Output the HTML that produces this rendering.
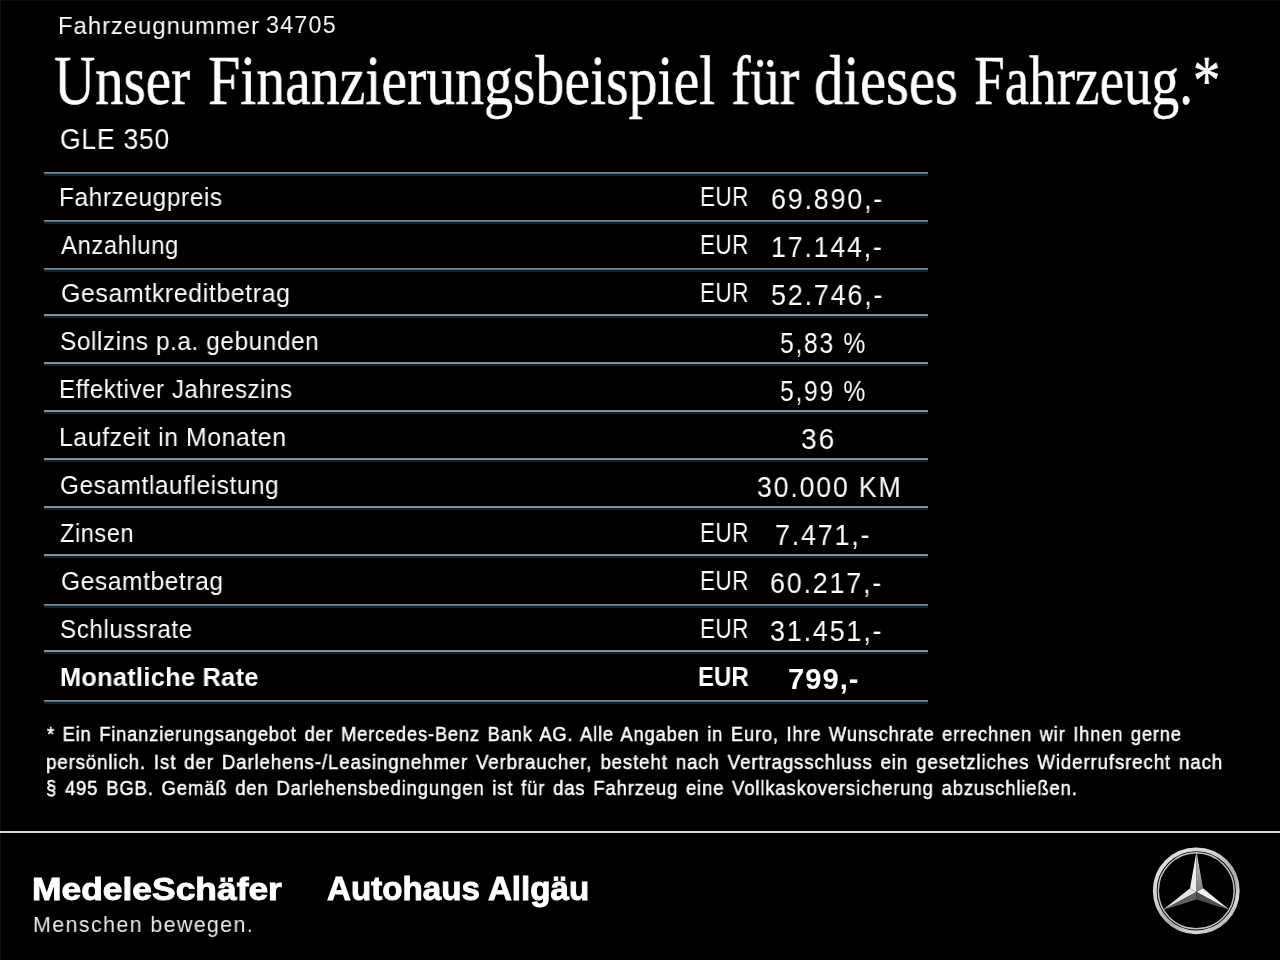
<!DOCTYPE html>
<html><head><meta charset="utf-8">
<style>
html,body{margin:0;padding:0;background:#000;font-family:"Liberation Sans",sans-serif;}
body{width:1280px;height:960px;position:relative;overflow:hidden;}
.t{position:absolute;white-space:nowrap;line-height:normal;transform-origin:0 0;color:#fff;will-change:transform;}
.rule{position:absolute;left:44px;width:884px;height:4px;}
.ra{background:linear-gradient(#7b8896 0,#7b8896 1px,#56687a 1px,#56687a 2px,#0c2238 2px,#0c2238 4px);}
.rb{background:linear-gradient(#8a8584 0,#8a8584 1px,#8d9096 1px,#8d9096 2px,#04203a 2px,#0a2644 4px);}
.bt{position:absolute;left:0;top:0;width:1280px;height:1px;background:#0c0c0c;}
.bl{position:absolute;left:0;top:0;width:1px;height:960px;background:#111;}
.fl{position:absolute;left:0;top:831px;width:1280px;height:2px;background:#d8d8d8;}
.star{position:absolute;}
</style></head><body>
<div class="bt"></div><div class="bl"></div>
<div class="rule ra" style="top:172px"></div>
<div class="rule ra" style="top:220px"></div>
<div class="rule ra" style="top:268px"></div>
<div class="rule rb" style="top:314px"></div>
<div class="rule rb" style="top:362px"></div>
<div class="rule rb" style="top:410px"></div>
<div class="rule rb" style="top:458px"></div>
<div class="rule rb" style="top:506px"></div>
<div class="rule rb" style="top:554px"></div>
<div class="rule ra" style="top:604px"></div>
<div class="rule rb" style="top:650px"></div>
<div class="rule ra" style="top:700px"></div>
<div class="fl"></div>
<svg class="star" width="100" height="100" viewBox="0 0 100 100" style="left:1146px;top:841px">
<defs>
<linearGradient id="rg" x1="0.1" y1="0" x2="0.9" y2="1">
<stop offset="0" stop-color="#e6e6e6"/><stop offset="0.35" stop-color="#cfcfcf"/><stop offset="0.6" stop-color="#a8a8a8"/><stop offset="0.8" stop-color="#dcdcdc"/><stop offset="1" stop-color="#9c9c9c"/>
</linearGradient>
<linearGradient id="tr" x1="0" y1="0" x2="0" y2="1"><stop offset="0" stop-color="#cfcfcf"/><stop offset="1" stop-color="#7d7d7d"/></linearGradient>
</defs>
<circle cx="50.25" cy="49.8" r="41.5" fill="none" stroke="url(#rg)" stroke-width="3.8"/>
<circle cx="50.25" cy="49.8" r="38.0" fill="none" stroke="#c4c4c4" stroke-width="1.5"/>
<polygon points="50.5,10.2 44.0,47.25 50.5,51" fill="#ededed"/>
<polygon points="50.5,10.2 57.0,47.25 50.5,51" fill="url(#tr)"/>
<polygon points="16.5,69.2 44.0,47.25 50.5,51" fill="#e2e2e2"/>
<polygon points="16.5,69.2 50.5,51 50.5,58.5" fill="#5e5e5e"/>
<polygon points="84,69.2 57.0,47.25 50.5,51" fill="#eeeeee"/>
<polygon points="84,69.2 50.5,51 50.5,58.5" fill="#4e4e4e"/>
</svg>
<div class="t" style="left:58.10px;top:12.03px;font-family:'Liberation Sans',sans-serif;font-size:24.60px;font-weight:normal;letter-spacing:1.0px;color:#fff;transform:scaleX(0.9701);">Fahrzeugnummer</div>
<div class="t" style="left:266.06px;top:12.08px;font-family:'Liberation Sans',sans-serif;font-size:23.32px;font-weight:normal;letter-spacing:1.2px;color:#f4f4f4;transform:scaleX(0.9970);">34705</div>
<div class="t" style="left:54.35px;top:41.36px;font-family:'Liberation Serif',serif;font-size:70.02px;font-weight:normal;color:#fff;transform:scaleX(0.8137);-webkit-text-stroke:0.5px #fff;">Unser</div>
<div class="t" style="left:208.05px;top:41.36px;font-family:'Liberation Serif',serif;font-size:70.02px;font-weight:normal;color:#fff;transform:scaleX(0.8258);-webkit-text-stroke:0.5px #fff;">Finanzierungsbeispiel</div>
<div class="t" style="left:730.73px;top:41.36px;font-family:'Liberation Serif',serif;font-size:70.02px;font-weight:normal;color:#fff;transform:scaleX(0.8366);-webkit-text-stroke:0.5px #fff;">für</div>
<div class="t" style="left:813.85px;top:41.36px;font-family:'Liberation Serif',serif;font-size:70.02px;font-weight:normal;color:#fff;transform:scaleX(0.8414);-webkit-text-stroke:0.5px #fff;">dieses</div>
<div class="t" style="left:974.03px;top:41.36px;font-family:'Liberation Serif',serif;font-size:70.02px;font-weight:normal;color:#fff;transform:scaleX(0.7874);-webkit-text-stroke:0.5px #fff;">Fahrzeug.*</div>
<div class="t" style="left:60.46px;top:121.88px;font-family:'Liberation Sans',sans-serif;font-size:30.29px;font-weight:normal;letter-spacing:0.8px;color:#fff;transform:scaleX(0.8787);">GLE 350</div>
<div class="t" style="left:59.12px;top:183.12px;font-family:'Liberation Sans',sans-serif;font-size:25.60px;font-weight:normal;letter-spacing:0.6px;color:#fff;transform:scaleX(0.9548);">Fahrzeugpreis</div>
<div class="t" style="left:61.20px;top:231.12px;font-family:'Liberation Sans',sans-serif;font-size:25.60px;font-weight:normal;letter-spacing:0.6px;color:#fff;transform:scaleX(0.9326);">Anzahlung</div>
<div class="t" style="left:60.61px;top:279.12px;font-family:'Liberation Sans',sans-serif;font-size:25.60px;font-weight:normal;letter-spacing:0.6px;color:#fff;transform:scaleX(0.9744);">Gesamtkreditbetrag</div>
<div class="t" style="left:59.91px;top:327.12px;font-family:'Liberation Sans',sans-serif;font-size:25.60px;font-weight:normal;letter-spacing:0.6px;color:#fff;transform:scaleX(0.9527);">Sollzins p.a. gebunden</div>
<div class="t" style="left:59.18px;top:375.12px;font-family:'Liberation Sans',sans-serif;font-size:25.60px;font-weight:normal;letter-spacing:0.6px;color:#fff;transform:scaleX(0.9411);">Effektiver Jahreszins</div>
<div class="t" style="left:59.07px;top:423.12px;font-family:'Liberation Sans',sans-serif;font-size:25.60px;font-weight:normal;letter-spacing:0.6px;color:#fff;transform:scaleX(0.9694);">Laufzeit in Monaten</div>
<div class="t" style="left:59.73px;top:471.12px;font-family:'Liberation Sans',sans-serif;font-size:25.60px;font-weight:normal;letter-spacing:0.6px;color:#fff;transform:scaleX(0.9536);">Gesamtlaufleistung</div>
<div class="t" style="left:60.29px;top:519.12px;font-family:'Liberation Sans',sans-serif;font-size:25.60px;font-weight:normal;letter-spacing:0.6px;color:#fff;transform:scaleX(0.9217);">Zinsen</div>
<div class="t" style="left:60.68px;top:567.12px;font-family:'Liberation Sans',sans-serif;font-size:25.60px;font-weight:normal;letter-spacing:0.6px;color:#fff;transform:scaleX(0.9602);">Gesamtbetrag</div>
<div class="t" style="left:59.92px;top:615.12px;font-family:'Liberation Sans',sans-serif;font-size:25.60px;font-weight:normal;letter-spacing:0.6px;color:#fff;transform:scaleX(0.9456);">Schlussrate</div>
<div class="t" style="left:59.99px;top:663.12px;font-family:'Liberation Sans',sans-serif;font-size:25.60px;font-weight:bold;letter-spacing:0.3px;color:#fff;transform:scaleX(0.9896);">Monatliche Rate</div>
<div class="t" style="left:699.67px;top:182.29px;font-family:'Liberation Sans',sans-serif;font-size:26.74px;font-weight:normal;letter-spacing:0.5px;color:#fff;transform:scaleX(0.8421);">EUR</div>
<div class="t" style="left:699.67px;top:230.29px;font-family:'Liberation Sans',sans-serif;font-size:26.74px;font-weight:normal;letter-spacing:0.5px;color:#fff;transform:scaleX(0.8421);">EUR</div>
<div class="t" style="left:699.67px;top:278.29px;font-family:'Liberation Sans',sans-serif;font-size:26.74px;font-weight:normal;letter-spacing:0.5px;color:#fff;transform:scaleX(0.8421);">EUR</div>
<div class="t" style="left:699.67px;top:518.30px;font-family:'Liberation Sans',sans-serif;font-size:26.74px;font-weight:normal;letter-spacing:0.5px;color:#fff;transform:scaleX(0.8421);">EUR</div>
<div class="t" style="left:699.67px;top:566.30px;font-family:'Liberation Sans',sans-serif;font-size:26.74px;font-weight:normal;letter-spacing:0.5px;color:#fff;transform:scaleX(0.8421);">EUR</div>
<div class="t" style="left:699.67px;top:614.30px;font-family:'Liberation Sans',sans-serif;font-size:26.74px;font-weight:normal;letter-spacing:0.5px;color:#fff;transform:scaleX(0.8421);">EUR</div>
<div class="t" style="left:698.01px;top:662.30px;font-family:'Liberation Sans',sans-serif;font-size:26.74px;font-weight:bold;color:#fff;transform:scaleX(0.8983);">EUR</div>
<div class="t" style="left:770.58px;top:183.21px;font-family:'Liberation Sans',sans-serif;font-size:29.16px;font-weight:normal;letter-spacing:2.0px;color:#fff;transform:scaleX(0.9194);">69.890,-</div>
<div class="t" style="left:770.95px;top:231.21px;font-family:'Liberation Sans',sans-serif;font-size:29.16px;font-weight:normal;letter-spacing:2.0px;color:#fff;transform:scaleX(0.9157);">17.144,-</div>
<div class="t" style="left:770.50px;top:279.21px;font-family:'Liberation Sans',sans-serif;font-size:29.16px;font-weight:normal;letter-spacing:2.0px;color:#fff;transform:scaleX(0.9207);">52.746,-</div>
<div class="t" style="left:779.53px;top:327.21px;font-family:'Liberation Sans',sans-serif;font-size:29.16px;font-weight:normal;letter-spacing:2.0px;color:#fff;transform:scaleX(0.8474);">5,83 %</div>
<div class="t" style="left:779.53px;top:375.21px;font-family:'Liberation Sans',sans-serif;font-size:29.16px;font-weight:normal;letter-spacing:2.0px;color:#fff;transform:scaleX(0.8474);">5,99 %</div>
<div class="t" style="left:800.63px;top:423.21px;font-family:'Liberation Sans',sans-serif;font-size:29.16px;font-weight:normal;letter-spacing:2.0px;color:#fff;transform:scaleX(0.9635);">36</div>
<div class="t" style="left:756.79px;top:471.21px;font-family:'Liberation Sans',sans-serif;font-size:29.16px;font-weight:normal;letter-spacing:2.0px;color:#fff;transform:scaleX(0.9150);">30.000 KM</div>
<div class="t" style="left:775.46px;top:519.21px;font-family:'Liberation Sans',sans-serif;font-size:29.16px;font-weight:normal;letter-spacing:2.0px;color:#fff;transform:scaleX(0.9194);">7.471,-</div>
<div class="t" style="left:769.98px;top:567.21px;font-family:'Liberation Sans',sans-serif;font-size:29.16px;font-weight:normal;letter-spacing:2.0px;color:#fff;transform:scaleX(0.9193);">60.217,-</div>
<div class="t" style="left:769.99px;top:615.21px;font-family:'Liberation Sans',sans-serif;font-size:29.16px;font-weight:normal;letter-spacing:2.0px;color:#fff;transform:scaleX(0.9213);">31.451,-</div>
<div class="t" style="left:788.08px;top:663.21px;font-family:'Liberation Sans',sans-serif;font-size:29.16px;font-weight:bold;letter-spacing:1.0px;color:#fff;transform:scaleX(0.9969);">799,-</div>
<div class="t" style="left:46.67px;top:723.48px;font-family:'Liberation Sans',sans-serif;font-size:19.91px;font-weight:normal;letter-spacing:0.9px;word-spacing:2.0px;color:#fff;transform:scaleX(0.9183);-webkit-text-stroke:0.45px #fff;">* Ein Finanzierungsangebot der Mercedes-Benz Bank AG. Alle Angaben in Euro, Ihre Wunschrate errechnen wir Ihnen gerne</div>
<div class="t" style="left:45.73px;top:750.68px;font-family:'Liberation Sans',sans-serif;font-size:19.91px;font-weight:normal;letter-spacing:0.9px;word-spacing:2.0px;color:#fff;transform:scaleX(0.9414);-webkit-text-stroke:0.45px #fff;">persönlich. Ist der Darlehens-/Leasingnehmer Verbraucher, besteht nach Vertragsschluss ein gesetzliches Widerrufsrecht nach</div>
<div class="t" style="left:45.94px;top:777.48px;font-family:'Liberation Sans',sans-serif;font-size:19.91px;font-weight:normal;letter-spacing:0.9px;word-spacing:2.0px;color:#fff;transform:scaleX(0.9293);-webkit-text-stroke:0.45px #fff;">§ 495 BGB. Gemäß den Darlehensbedingungen ist für das Fahrzeug eine Vollkaskoversicherung abzuschließen.</div>
<div class="t" style="left:32.28px;top:872.30px;font-family:'Liberation Sans',sans-serif;font-size:31.15px;font-weight:bold;color:#fff;transform:scaleX(1.1368);-webkit-text-stroke:0.9px #fff;">MedeleSchäfer</div>
<div class="t" style="left:33.12px;top:911.86px;font-family:'Liberation Sans',sans-serif;font-size:22.47px;font-weight:normal;letter-spacing:1.5px;color:#ececec;transform:scaleX(0.9502);">Menschen bewegen.</div>
<div class="t" style="left:327.10px;top:870.30px;font-family:'Liberation Sans',sans-serif;font-size:33.14px;font-weight:bold;color:#fff;transform:scaleX(1.0012);-webkit-text-stroke:0.9px #fff;">Autohaus Allgäu</div>
</body></html>
